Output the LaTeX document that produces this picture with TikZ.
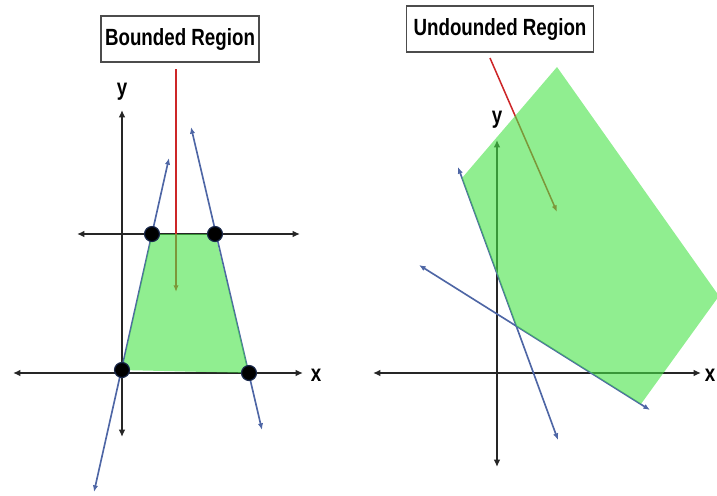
\documentclass[tikz,border=0pt]{standalone}
\usepackage{fontspec}
\setmainfont{Liberation Sans}[FakeStretch=0.8]
\usetikzlibrary{arrows.meta}

\definecolor{regiongreen}{RGB}{70,227,70}
\definecolor{lineblue}{RGB}{78,102,165}
\definecolor{pointerred}{RGB}{205,38,40}
\definecolor{axisdark}{RGB}{38,38,38}
\definecolor{dotrim}{RGB}{25,40,75}

\begin{document}
\begin{tikzpicture}[
    x=.03cm,y=-.03cm,font=\fontsize{20}{24}\selectfont\bfseries,
    axis/.style={line width=1.5pt,draw=axisdark,
        {Latex[length=2.2mm,width=2mm]}-{Latex[length=2.2mm,width=2mm]}},
    boundary/.style={line width=1.4pt,draw=lineblue,
        {Latex[length=2mm,width=1.6mm]}-{Latex[length=2mm,width=1.6mm]}},
    pointer/.style={line width=1.3pt,draw=pointerred,-{Latex[length=2mm,width=1.6mm]}},
    region/.style={fill=regiongreen,fill opacity=.6},
    corner/.style={circle,fill=black,draw=dotrim,line width=1pt,inner sep=0pt,
        minimum size=.45cm},
    title box/.style={draw=black!70,line width=1.2pt,fill=white,inner sep=0pt,
        minimum height=1.38cm}
]
    \useasboundingbox (0,0) rectangle (717,495);

    % Bounded region: two horizontal limits and two slanted limits.
    \coordinate (ly top) at (122,110);
    \coordinate (ly bottom) at (122,437);
    \coordinate (lx left) at (13,373);
    \coordinate (lx right) at (303,373);
    \coordinate (cap left) at (77,234);
    \coordinate (cap right) at (300,234);
    \coordinate (slant a low) at (94,492);
    \coordinate (slant a high) at (169,158);
    \coordinate (slant b high) at (191,127);
    \coordinate (slant b low) at (262,430);

    \draw[axis] (ly bottom) -- (ly top);
    \draw[axis] (lx left) -- (lx right);
    \draw[axis] (cap left) -- (cap right);
    \node (ly label) at (122,92) {y};
    \node (lx label) at (316,375) {x};

    \draw[boundary] (slant a low) -- (slant a high);
    \draw[boundary] (slant b low) -- (slant b high);

    \node[title box,minimum width=4.75cm] (bounded) at (180,39) {Bounded Region};
    \coordinate (bounded tail) at (176,69);
    \coordinate (bounded tip) at (176,292);
    \draw[pointer] (bounded tail) -- (bounded tip);

    \coordinate (v1) at (122,370);
    \coordinate (v2) at (152,234);
    \coordinate (v3) at (215,234);
    \coordinate (v4) at (249,373);
    \fill[region] (v1) -- (v2) -- (v3) -- (v4) -- cycle;
    \foreach \v in {v1,v2,v3,v4}
        \node[corner] (\v dot) at (\v) {};

    % Unbounded region: open towards the upper right.
    \coordinate (ry top) at (497,140);
    \coordinate (ry bottom) at (497,467);
    \coordinate (rx left) at (373,373);
    \coordinate (rx right) at (701,373);
    \coordinate (steep high) at (458,167);
    \coordinate (steep low) at (558,440);
    \coordinate (flat high) at (419,265);
    \coordinate (flat low) at (650,410);

    \draw[axis] (ry bottom) -- (ry top);
    \draw[axis] (rx left) -- (rx right);
    \node (ry label) at (497,120) {y};
    \node[inner sep=0pt] (rx label) at (710,375) {x};

    \draw[boundary] (steep high) -- (steep low);
    \draw[boundary] (flat high) -- (flat low);

    \node[title box,minimum width=5.6cm] (unbounded) at (500,29) {Undounded Region};
    \coordinate (unbounded tail) at (490,58);
    \coordinate (unbounded tip) at (557,212);
    \draw[pointer] (unbounded tail) -- (unbounded tip);

    \coordinate (crossing) at (intersection of steep high--steep low and flat high--flat low);
    \fill[region] (557,67) -- (719,296) -- (641,404) -- (crossing) -- (462,178) -- cycle;
\end{tikzpicture}
\end{document}
